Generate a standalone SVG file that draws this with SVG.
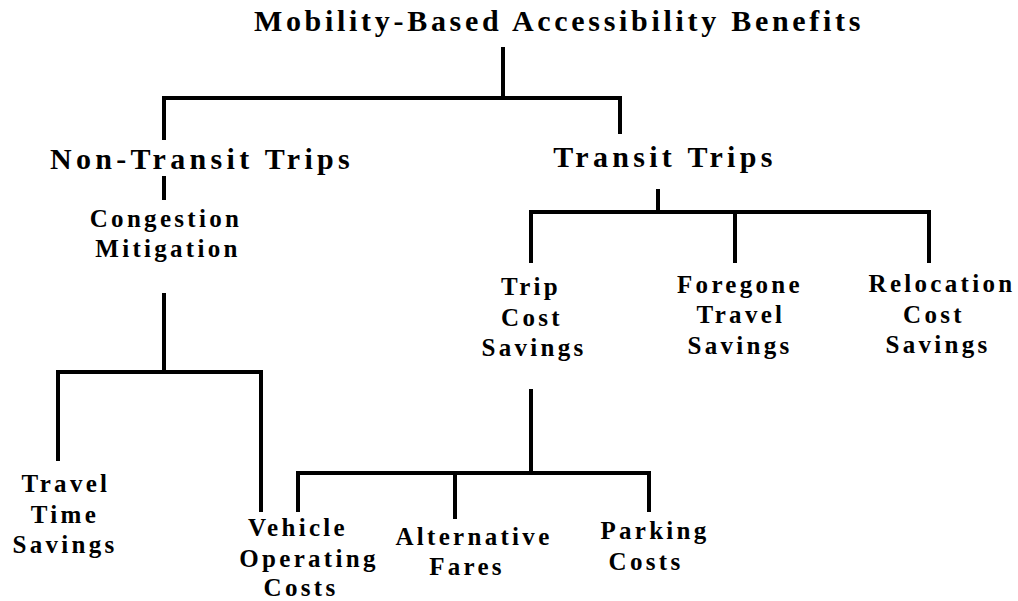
<svg xmlns="http://www.w3.org/2000/svg" width="1018" height="601" viewBox="0 0 1018 601">
<style>
text{font-family:"Liberation Serif","Times New Roman",serif;font-weight:bold;fill:#000;text-anchor:middle}
.t0{font-size:30px;letter-spacing:3.7px}
.t1{font-size:30px;letter-spacing:4.3px}
.t2{font-size:25px;letter-spacing:3.3px}
#connectors path{fill:none;stroke:#000;stroke-width:4;stroke-linecap:butt;stroke-linejoin:miter}
</style>
<rect width="1018" height="601" fill="#fff"/>
<g id="connectors">
<path d="M503 47V98M164 140V98H620V134"/>
<path d="M164 176V200"/>
<path d="M164 293V372M58 461V372H261V512"/>
<path d="M658 189V212M531 263V212H929V263M735 212V263"/>
<path d="M531 389V473M298 512V473H649V512M455 473V519"/>
</g>
<g id="n-root"><text class="t0" x="559" y="31">Mobility-Based Accessibility Benefits</text></g>
<g id="n-nontransit"><text class="t1" x="202" y="169">Non-Transit Trips</text></g>
<g id="n-transit"><text class="t1" x="665" y="167">Transit Trips</text></g>
<g id="n-congestion"><text class="t2" x="166" y="227">Congestion</text><text class="t2" x="168" y="257">Mitigation</text></g>
<g id="n-traveltime"><text class="t2" x="66" y="492">Travel</text><text class="t2" x="65" y="523">Time</text><text class="t2" x="65" y="553">Savings</text></g>
<g id="n-vehicle"><text class="t2" x="298" y="536">Vehicle</text><text class="t2" x="309" y="567">Operating</text><text class="t2" x="301" y="596">Costs</text></g>
<g id="n-tripcost"><text class="t2" x="531" y="295">Trip</text><text class="t2" x="532" y="326">Cost</text><text class="t2" x="534" y="356">Savings</text></g>
<g id="n-foregone"><text class="t2" x="740" y="293">Foregone</text><text class="t2" x="741" y="323">Travel</text><text class="t2" x="740" y="354">Savings</text></g>
<g id="n-relocation"><text class="t2" x="942" y="292">Relocation</text><text class="t2" x="934" y="323">Cost</text><text class="t2" x="938" y="353">Savings</text></g>
<g id="n-altfares"><text class="t2" x="474" y="545">Alternative</text><text class="t2" x="467" y="575">Fares</text></g>
<g id="n-parking"><text class="t2" x="655" y="539">Parking</text><text class="t2" x="646" y="570">Costs</text></g>
</svg>
